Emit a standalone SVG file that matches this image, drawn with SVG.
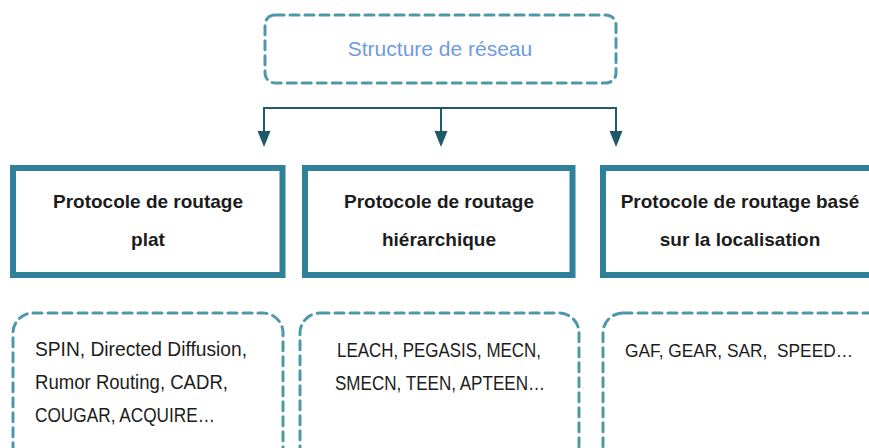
<svg xmlns="http://www.w3.org/2000/svg" width="869" height="448" viewBox="0 0 869 448">
<style>
.solid{fill:#fff;stroke:#2f8199;stroke-width:6}
.dash{fill:none;stroke:#4f98a9;stroke-width:3;stroke-dasharray:9 6;stroke-linecap:round}
.t{font-family:"Liberation Sans",Arial,sans-serif;fill:#1c1c1c}
.b{font-weight:bold;font-size:19px;text-anchor:middle}
.n{font-size:19.5px}
.c{text-anchor:middle}
.conn{stroke:#1f5a6a;stroke-width:2;fill:none}
.head{fill:#1f5a6a}
</style>
<rect width="869" height="448" fill="#fff"/>
<g id="root">
<rect class="dash" x="265" y="15" width="351" height="68" rx="10"/>
<text class="t c" x="440" y="56" font-size="21" style="fill:#6f9be0">Structure de réseau</text>
</g>
<g id="connectors">
<path class="conn" d="M264,108 H616"/>
<path class="conn" d="M264,107 V133"/>
<path class="conn" d="M441,108 V133"/>
<path class="conn" d="M616,107 V133"/>
<path class="head" d="M257.5,131 L270.5,131 L264,147 Z"/>
<path class="head" d="M434.5,131 L447.5,131 L441,147 Z"/>
<path class="head" d="M609.5,131 L622.5,131 L616,147 Z"/>
</g>
<g id="plat">
<rect class="solid" x="13" y="168" width="269.5" height="107"/>
<text class="t b" x="148" y="208">Protocole de routage</text>
<text class="t b" x="148" y="246">plat</text>
</g>
<g id="hierarchique">
<rect class="solid" x="305" y="168" width="267.5" height="107"/>
<text class="t b" x="439" y="208">Protocole de routage</text>
<text class="t b" x="439" y="246">hiérarchique</text>
</g>
<g id="localisation">
<rect class="solid" x="603" y="168" width="274" height="107"/>
<text class="t b" x="740" y="208">Protocole de routage basé</text>
<text class="t b" x="740" y="246">sur la localisation</text>
</g>
<g id="list-plat">
<rect class="dash" x="13" y="313" width="270" height="160" rx="20"/>
<text class="t n" x="35" y="356" textLength="212" lengthAdjust="spacingAndGlyphs">SPIN, Directed Diffusion,</text>
<text class="t n" x="35" y="389" textLength="193" lengthAdjust="spacingAndGlyphs">Rumor Routing, CADR,</text>
<text class="t n" x="35" y="422" textLength="180" lengthAdjust="spacingAndGlyphs">COUGAR, ACQUIRE…</text>
</g>
<g id="list-hierarchique">
<rect class="dash" x="300" y="313" width="279" height="160" rx="20"/>
<text class="t n" x="337" y="357" textLength="204" lengthAdjust="spacingAndGlyphs">LEACH, PEGASIS, MECN,</text>
<text class="t n" x="335" y="390" textLength="210" lengthAdjust="spacingAndGlyphs">SMECN, TEEN, APTEEN…</text>
</g>
<g id="list-localisation">
<rect class="dash" x="603" y="313" width="290" height="160" rx="20"/>
<text class="t" x="625" y="357" font-size="18" textLength="228" lengthAdjust="spacingAndGlyphs" style="white-space:pre">GAF, GEAR, SAR,  SPEED…</text>
</g>
</svg>
